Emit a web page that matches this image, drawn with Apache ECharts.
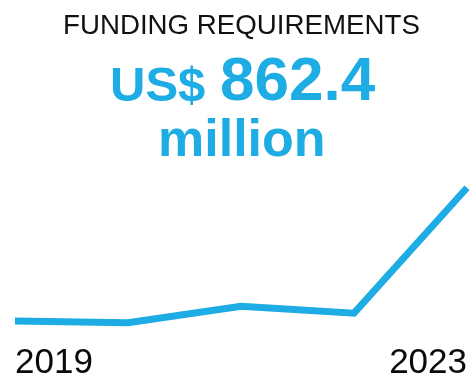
<!DOCTYPE html>
<html>
<head>
<meta charset="utf-8">
<script src="https://cdn.jsdelivr.net/npm/echarts@6/dist/echarts.min.js"></script>
<style>
  html, body { margin: 0; padding: 0; background: #fff; }
  #chart { width: 470px; height: 382px; }
</style>
</head>
<body>
<div id="chart"></div>
<script>
// Annual funding requirements, US$ million
const years = ['2019', '2020', '2021', '2022', '2023'];
const requirements = [290, 283, 353, 324, 862.4];

const BLUE = '#1DACE3';
const FONT = '"Liberation Sans", Arial, Helvetica, sans-serif';
const latest = requirements[requirements.length - 1];

const chart = echarts.init(document.getElementById('chart'), null, { renderer: 'canvas' });

chart.setOption({
  backgroundColor: '#ffffff',
  animation: false,
  title: [
    {
      text: 'FUNDING REQUIREMENTS',
      left: 63, top: 12, padding: 0,
      textStyle: { fontFamily: FONT, fontSize: 27.7, fontWeight: 'normal', color: '#111111' }
    },
    {
      text: 'US$',
      left: 110, top: 63, padding: 0,
      textStyle: { fontFamily: FONT, fontSize: 49, fontWeight: 'bold', color: BLUE }
    },
    {
      text: String(latest),
      left: 220, top: 52, padding: 0,
      textStyle: { fontFamily: FONT, fontSize: 62, fontWeight: 'bold', color: BLUE }
    },
    {
      text: 'million',
      left: 158, top: 116, padding: 0,
      textStyle: { fontFamily: FONT, fontSize: 52, fontWeight: 'bold', color: BLUE }
    }
  ],
  grid: { left: 15, right: 3, top: 179, bottom: 40, containLabel: false },
  xAxis: {
    type: 'category',
    data: years,
    boundaryGap: false,
    axisLine: { show: false },
    axisTick: { show: false },
    splitLine: { show: false },
    axisLabel: {
      interval: 3,
      margin: 4,
      fontFamily: FONT,
      fontSize: 35,
      color: '#0a0a0a',
      alignMinLabel: 'left',
      alignMaxLabel: 'right'
    }
  },
  yAxis: {
    type: 'value',
    min: 200,
    max: 900,
    show: false
  },
  series: [
    {
      type: 'line',
      data: requirements,
      showSymbol: false,
      symbol: 'none',
      clip: false,
      lineStyle: { color: BLUE, width: 7, cap: 'butt', join: 'miter' },
      itemStyle: { color: BLUE },
      emphasis: { disabled: true }
    }
  ]
});
</script>
</body>
</html>
